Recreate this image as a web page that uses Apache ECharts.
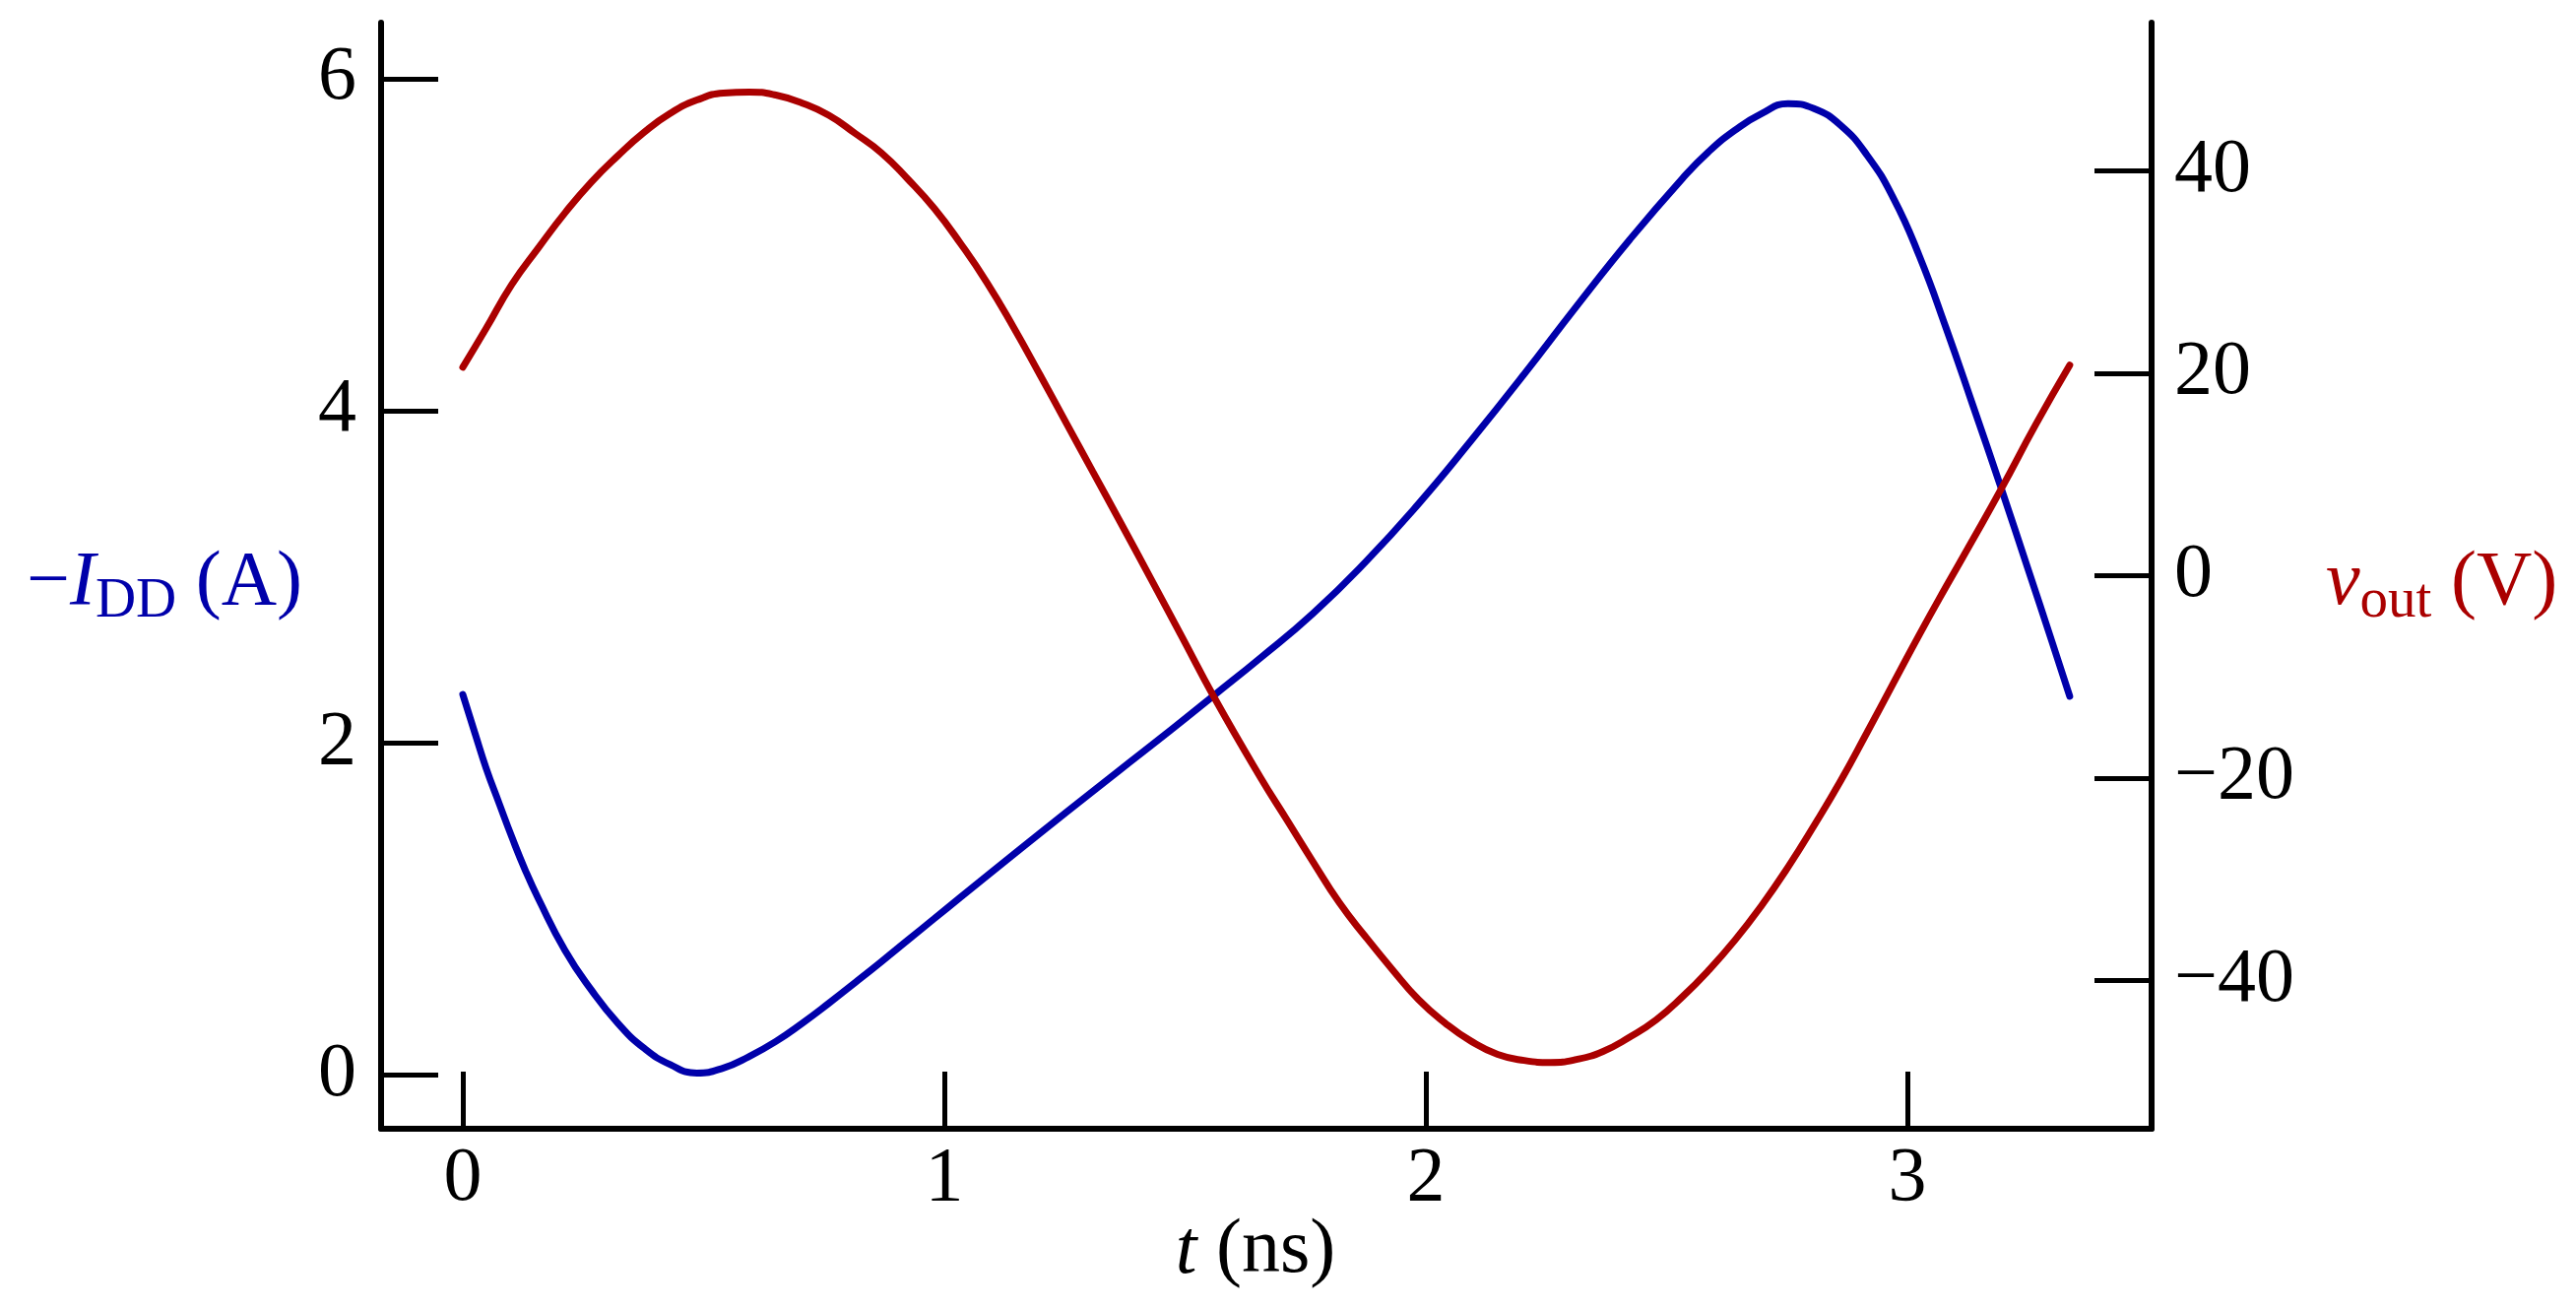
<!DOCTYPE html>
<html>
<head>
<meta charset="utf-8">
<script src="https://cdn.jsdelivr.net/npm/echarts@6/dist/echarts.min.js"></script>
<style>
  html, body { margin: 0; padding: 0; background: #fff; }
  #chart { width: 2616px; height: 1329px; }
</style>
</head>
<body>
<div id="chart"></div>
<script>
// time samples (ns) and values
const tBlue = [0, 0.026, 0.048, 0.076, 0.102, 0.130, 0.157, 0.212, 0.267, 0.322, 0.376, 0.431, 0.486, 0.541, 0.595, 0.650, 0.705,
  0.760, 0.815, 0.869, 0.924, 0.979, 1.034, 1.143, 1.253, 1.362, 1.472, 1.560, 1.656, 1.766, 1.875, 1.985, 2.094,
  2.204, 2.313, 2.423, 2.533, 2.587, 2.642, 2.697, 2.752, 2.806, 2.861, 2.916, 2.971, 3.025, 3.080, 3.135, 3.195, 3.250, 3.300, 3.337]
const iDD = [2.29, 2.05, 1.85, 1.63, 1.43, 1.23, 1.06, 0.75, 0.51, 0.31, 0.16, 0.06, 0.01, 0.04, 0.11, 0.20, 0.31,
  0.43, 0.555, 0.68, 0.81, 0.94, 1.07, 1.325, 1.58, 1.83, 2.08, 2.285, 2.51, 2.78, 3.09, 3.44, 3.82,
  4.22, 4.63, 5.03, 5.40, 5.56, 5.69, 5.79, 5.85, 5.82, 5.72, 5.54, 5.28, 4.93, 4.50, 4.04, 3.53, 3.05, 2.61, 2.28]

const tRed = [0, 0.048, 0.102, 0.157, 0.213, 0.267, 0.322, 0.376, 0.431, 0.486, 0.541, 0.595, 0.650, 0.705, 0.760, 0.815,
  0.869, 0.924, 0.979, 1.034, 1.088, 1.143, 1.198, 1.253, 1.308, 1.362, 1.430, 1.494, 1.560, 1.656, 1.711, 1.766,
  1.820, 1.875, 1.930, 1.985, 2.040, 2.094, 2.149, 2.204, 2.259, 2.313, 2.368, 2.423, 2.478, 2.533, 2.587, 2.642,
  2.697, 2.752, 2.806, 2.861, 2.916, 2.971, 3.025, 3.080, 3.135, 3.195, 3.266, 3.337]
const vOut = [20.6, 24.4, 28.8, 32.4, 35.9, 38.9, 41.5, 43.8, 45.7, 47.0, 47.7, 47.8, 47.5, 46.7, 45.5, 43.7,
  41.8, 39.2, 36.3, 32.8, 29.0, 24.6, 19.9, 15.1, 10.3, 5.6, -0.4, -6.1, -12.0, -19.9, -24.1, -28.3,
  -32.3, -35.7, -38.9, -41.9, -44.2, -46.0, -47.3, -47.9, -48.1, -47.8, -47.0, -45.6, -43.9, -41.6, -39.0, -36.0,
  -32.6, -28.8, -24.7, -20.3, -15.5, -10.6, -5.8, -1.1, 3.5, 8.6, 14.9, 20.8]

const xTicks = [0, 1, 2, 3]
const iTicks = [0, 2, 4, 6]
const vTicks = [-40, -20, 0, 20, 40]

const BLUE = '#0000AA'
const RED = '#AA0000'
const FONT = '"Liberation Serif", "DejaVu Serif", serif'

const chart = echarts.init(document.getElementById('chart'))

function axisBase(ticks) {
    return {
        type: 'value',
        splitLine: { show: false },
        axisLine: { show: true, onZero: false, lineStyle: { color: '#000', width: 6 } },
        axisTick: { show: true, inside: true, length: 58, customValues: ticks, lineStyle: { color: '#000', width: 5 } },
        axisLabel: { customValues: ticks, color: '#000', fontSize: 78, fontFamily: FONT },
        nameMoveOverlap: false
    }
}

const xAxis = axisBase(xTicks)
xAxis.min = -0.1697
xAxis.max = 3.507
xAxis.axisLabel.margin = 13
xAxis.name = '{it|t}{m| (ns)}'
xAxis.nameLocation = 'middle'
xAxis.nameGap = 86
xAxis.nameTextStyle = {
    color: '#000', padding: [0, 22, 0, 0],
    rich: {
        m: { fontSize: 78, fontFamily: FONT, color: '#000' },
        it: { fontStyle: 'italic', fontSize: 78, fontFamily: FONT, color: '#000' }
    }
}

const yLeft = axisBase(iTicks)
yLeft.position = 'left'
yLeft.min = -0.326
yLeft.max = 6.338
yLeft.axisLabel.margin = 25
yLeft.name = '{m|\u2212}{it|I}{sub|DD}{m| (A)}'
yLeft.nameLocation = 'middle'
yLeft.nameRotate = 0
yLeft.nameGap = 80
yLeft.nameTextStyle = {
    color: BLUE, padding: [16, 0, 0, 0],
    rich: {
        m: { fontSize: 78, fontFamily: FONT, color: BLUE },
        it: { fontSize: 78, fontFamily: FONT, color: BLUE, fontStyle: 'italic' },
        sub: { fontSize: 57, fontFamily: FONT, color: BLUE, padding: [38, 0, 0, 0] }
    }
}

const yRight = axisBase(vTicks)
yRight.position = 'right'
yRight.min = -54.65
yRight.max = 54.65
yRight.axisLabel.margin = 23
yRight.axisLabel.formatter = v => (v < 0 ? '\u2212' + (-v) : String(v))
yRight.name = '{it|v}{sub|out}{m| (V)}'
yRight.nameLocation = 'middle'
yRight.nameRotate = 0
yRight.nameGap = 177
yRight.nameTextStyle = {
    color: RED, padding: [16, 0, 0, 0],
    rich: {
        m: { fontSize: 78, fontFamily: FONT, color: RED },
        it: { fontSize: 78, fontFamily: FONT, color: RED, fontStyle: 'italic' },
        sub: { fontSize: 57, fontFamily: FONT, color: RED, padding: [38, 0, 0, 0] }
    }
}

chart.setOption({
    animation: false,
    backgroundColor: '#fff',
    grid: { left: 387, right: 431, top: 23, bottom: 183, containLabel: false, outerBoundsMode: 'none' },
    xAxis: xAxis,
    yAxis: [yLeft, yRight],
    series: [
        {
            name: '-IDD', type: 'line', yAxisIndex: 0, showSymbol: false, smooth: 0.5,
            lineStyle: { color: BLUE, width: 7, cap: 'round' },
            data: tBlue.map((t, i) => [t, iDD[i]])
        },
        {
            name: 'vout', type: 'line', yAxisIndex: 1, showSymbol: false, smooth: 0.5,
            lineStyle: { color: RED, width: 7, cap: 'round' },
            data: tRed.map((t, i) => [t, vOut[i]])
        }
    ]
})
</script>
</body>
</html>
